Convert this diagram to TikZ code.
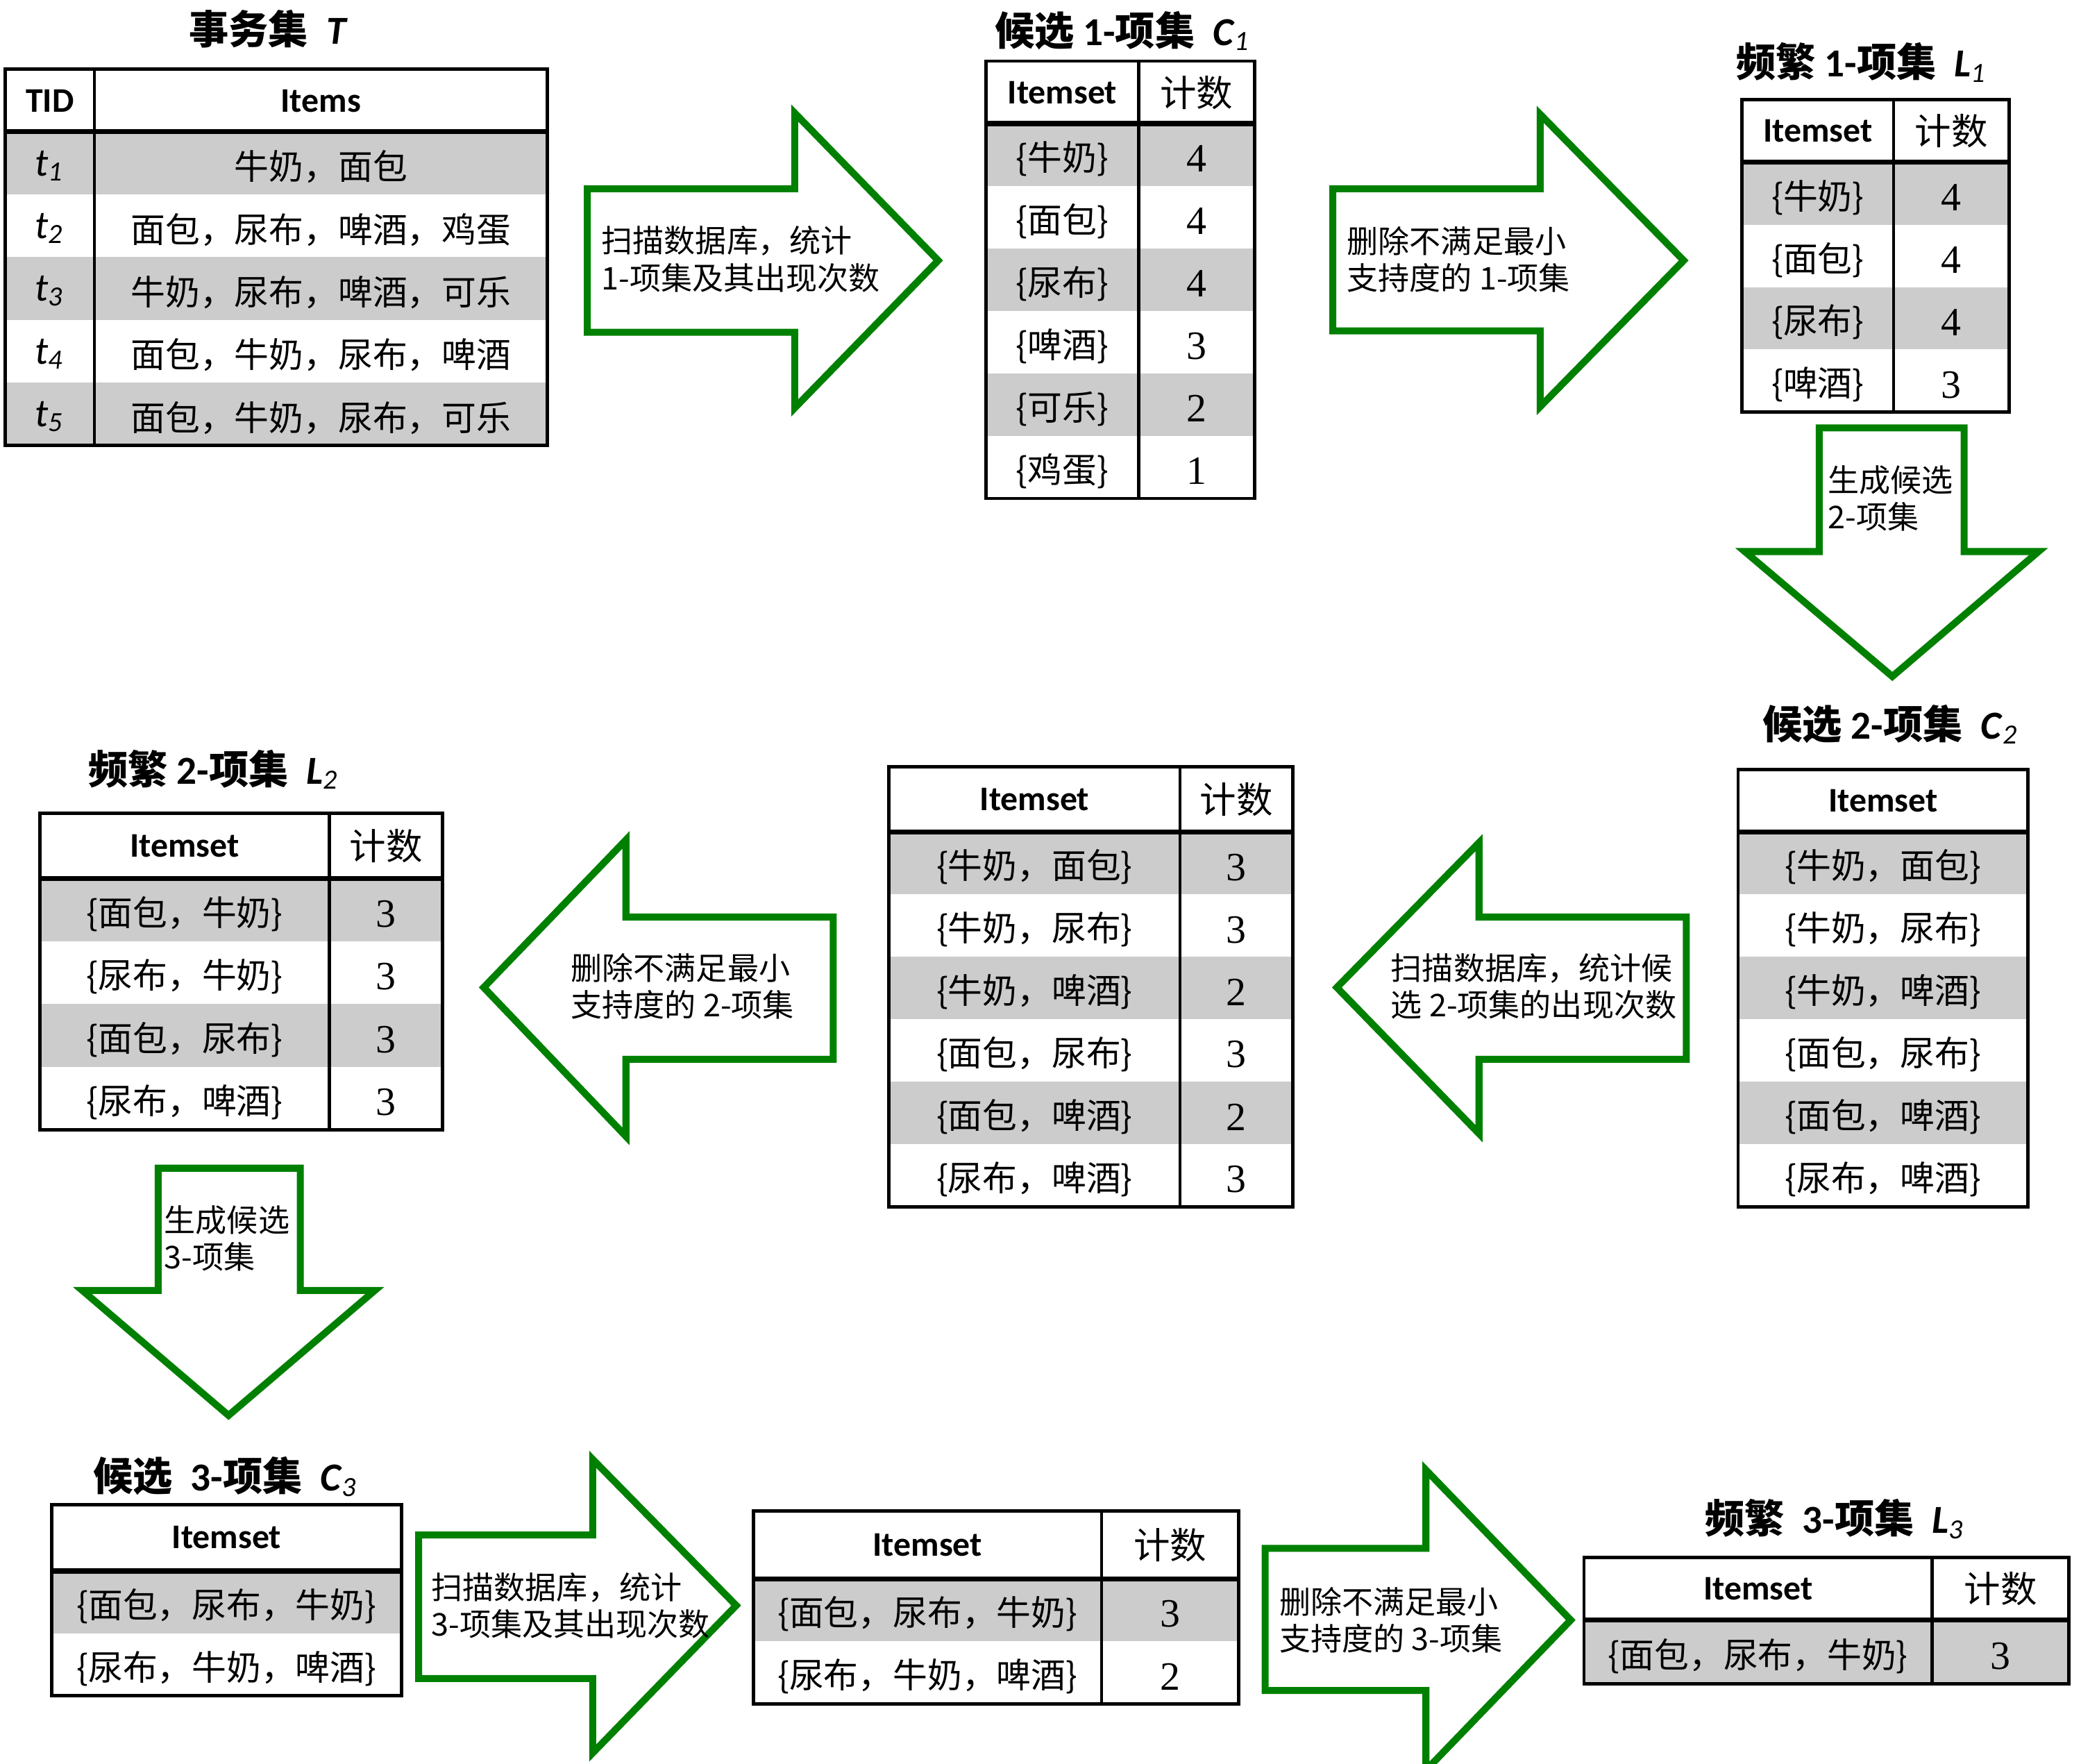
\documentclass[tikz,border=0pt]{standalone}
\usepackage{fontspec}
\setmainfont{Carlito}
\newfontfamily\cjk{Noto Sans CJK SC}
\newfontfamily\numfont{Liberation Serif}
\definecolor{rowgray}{RGB}{204,204,204}
\definecolor{arrowgreen}{RGB}{0,128,0}
\tikzset{
  tabline/.style={line width=0.7pt},
  headline/.style={line width=1.1pt},
  greenarrow/.style={draw=arrowgreen,line width=1.5pt,line join=miter,fill=white},
  hdr/.style={font=\fontsize{7.4pt}{9pt}\selectfont\bfseries,inner sep=0pt},
  cnthdr/.style={font=\cjk\fontsize{7.8pt}{9pt}\selectfont,inner sep=0pt},
  cell/.style={font=\cjk\fontsize{7.4pt}{9pt}\selectfont,inner sep=0pt,yshift=-0.3mm},
  num/.style={font=\numfont\fontsize{8.6pt}{9pt}\selectfont,inner sep=0pt,yshift=-0.3mm},
  tid/.style={font=\fontsize{8.5pt}{9pt}\selectfont\itshape,inner sep=0pt,yshift=-0.2mm},
  note/.style={font=\cjk\fontsize{6.7pt}{7.9pt}\selectfont,align=left,anchor=west,inner sep=0pt},
  ttl/.style={font=\fontsize{8.5pt}{10pt}\selectfont\bfseries,inner sep=0pt}
}
\def\sub#1{\textsubscript{\mdseries\itshape #1}}

\begin{document}
\begin{tikzpicture}[x=0.1mm,y=-0.1mm]
\useasboundingbox (0,0) rectangle (1566,1327);

\node[ttl] (ttl-T) at (202,22) {{\cjk 事务集}\ \ \textit{T}};
\foreach \n in {1,3,5} \fill[rowgray] (4,{99+47.2*(\n-1)}) rectangle (412,{99+47.2*\n});
\draw[tabline] (4,52) rectangle (412,335) (71,52) -- (71,335);
\draw[headline] (4,99) -- (412,99);
\node[hdr] (T-tid) at (37.5,76) {TID};
\node[hdr] (T-items) at (241.5,76) {Items};
\foreach \s [count=\n] in {牛奶，面包,面包，尿布，啤酒，鸡蛋,牛奶，尿布，啤酒，可乐,面包，牛奶，尿布，啤酒,面包，牛奶，尿布，可乐}{
  \node[tid] (T-t\n) at (37.5,{99+47.2*(\n-0.5)}) {t\sub{\n}};
  \node[cell] (T-i\n) at (241.5,{99+47.2*(\n-0.5)}) {\s};
}

\draw[greenarrow] (442,142) -- (598,142) -- (598,85) -- (706,196) -- (598,307) -- (598,250) -- (442,250) -- cycle;
\node[note] (a1) at (452,195) {扫描数据库，统计\\1-项集及其出现次数};

\node[ttl] (ttl-C1) at (845,23) {{\cjk 候选} 1-{\cjk 项集}\ \ \textit{C}\sub{1}};
\foreach \n in {1,3,5} \fill[rowgray] (742,{93+47*(\n-1)}) rectangle (944,{93+47*\n});
\draw[tabline] (742,46) rectangle (944,375) (857,46) -- (857,375);
\draw[headline] (742,93) -- (944,93);
\node[hdr] (C1-h1) at (799.5,70) {Itemset};
\node[cnthdr] (C1-h2) at (900.5,70) {计数};
\foreach \s/\c [count=\n] in {牛奶/4,面包/4,尿布/4,啤酒/3,可乐/2,鸡蛋/1}{
  \node[cell] (C1-s\n) at (799.5,{93+47*(\n-0.5)}) {\{\s\}};
  \node[num] (C1-c\n) at (900.5,{93+47*(\n-0.5)}) {\c};
}

\draw[greenarrow] (1003,142) -- (1159,142) -- (1159,86) -- (1267,196) -- (1159,306) -- (1159,249) -- (1003,249) -- cycle;
\node[note] (a2) at (1013,195) {删除不满足最小\\支持度的 1-项集};

\node[ttl] (ttl-L1) at (1401,47) {{\cjk 频繁} 1-{\cjk 项集}\ \ \textit{L}\sub{1}};
\foreach \n in {1,3} \fill[rowgray] (1311,{122+47*(\n-1)}) rectangle (1512,{122+47*\n});
\draw[tabline] (1311,75) rectangle (1512,310) (1425,75) -- (1425,310);
\draw[headline] (1311,122) -- (1512,122);
\node[hdr] (L1-h1) at (1368,98.5) {Itemset};
\node[cnthdr] (L1-h2) at (1468.5,98.5) {计数};
\foreach \s/\c [count=\n] in {牛奶/4,面包/4,尿布/4,啤酒/3}{
  \node[cell] (L1-s\n) at (1368,{122+47*(\n-0.5)}) {\{\s\}};
  \node[num] (L1-c\n) at (1468.5,{122+47*(\n-0.5)}) {\c};
}

\draw[greenarrow] (1369,322) -- (1478,322) -- (1478,415) -- (1534,415) -- (1424,509) -- (1313,415) -- (1369,415) -- cycle;
\node[note] (a3) at (1375,375) {生成候选\\2-项集};

\node[ttl] (ttl-C2) at (1423,545) {{\cjk 候选} 2-{\cjk 项集}\ \ \textit{C}\sub{2}};
\foreach \n in {1,3,5} \fill[rowgray] (1308,{626+47*(\n-1)}) rectangle (1526,{626+47*\n});
\draw[tabline] (1308,579) rectangle (1526,908);
\draw[headline] (1308,626) -- (1526,626);
\node[hdr] (C2-h1) at (1417,602.5) {Itemset};
\foreach \s [count=\n] in {牛奶，面包,牛奶，尿布,牛奶，啤酒,面包，尿布,面包，啤酒,尿布，啤酒}
  \node[cell] (C2-s\n) at (1417,{626+47*(\n-0.5)}) {\{\s\}};

\draw[greenarrow] (1269,690) -- (1113,690) -- (1113,634) -- (1006,743) -- (1113,853) -- (1113,797) -- (1269,797) -- cycle;
\node[note] (a4) at (1046,742) {扫描数据库，统计候\\选 2-项集的出现次数};

\foreach \n in {1,3,5} \fill[rowgray] (669,{626+47*(\n-1)}) rectangle (973,{626+47*\n});
\draw[tabline] (669,577) rectangle (973,908) (888,577) -- (888,908);
\draw[headline] (669,626) -- (973,626);
\node[hdr] (M-h1) at (778.5,601.5) {Itemset};
\node[cnthdr] (M-h2) at (930.5,601.5) {计数};
\foreach \s/\c [count=\n] in {牛奶，面包/3,牛奶，尿布/3,牛奶，啤酒/2,面包，尿布/3,面包，啤酒/2,尿布，啤酒/3}{
  \node[cell] (M-s\n) at (778.5,{626+47*(\n-0.5)}) {\{\s\}};
  \node[num] (M-c\n) at (930.5,{626+47*(\n-0.5)}) {\c};
}

\draw[greenarrow] (627,690) -- (471,690) -- (471,632) -- (364,743) -- (471,855) -- (471,797) -- (627,797) -- cycle;
\node[note] (a5) at (429,742) {删除不满足最小\\支持度的 2-项集};

\node[ttl] (ttl-L2) at (161,579) {{\cjk 频繁} 2-{\cjk 项集}\ \ \textit{L}\sub{2}};
\foreach \n in {1,3} \fill[rowgray] (30,{661+47.25*(\n-1)}) rectangle (333,{661+47.25*\n});
\draw[tabline] (30,612) rectangle (333,850) (248,612) -- (248,850);
\draw[headline] (30,661) -- (333,661);
\node[hdr] (L2-h1) at (139,636.5) {Itemset};
\node[cnthdr] (L2-h2) at (290.5,636.5) {计数};
\foreach \s/\c [count=\n] in {面包，牛奶/3,尿布，牛奶/3,面包，尿布/3,尿布，啤酒/3}{
  \node[cell] (L2-s\n) at (139,{661+47.25*(\n-0.5)}) {\{\s\}};
  \node[num] (L2-c\n) at (290.5,{661+47.25*(\n-0.5)}) {\c};
}

\draw[greenarrow] (119,879) -- (226,879) -- (226,971) -- (282,971) -- (172,1065) -- (62,971) -- (119,971) -- cycle;
\node[note] (a6) at (123,932) {生成候选\\3-项集};

\node[ttl] (ttl-C3) at (170,1111) {{\cjk 候选}\ \ 3-{\cjk 项集}\ \ \textit{C}\sub{3}};
\fill[rowgray] (39,1182) rectangle (302,1229);
\draw[tabline] (39,1132) rectangle (302,1276);
\draw[headline] (39,1182) -- (302,1182);
\node[hdr] (C3-h1) at (170.5,1157) {Itemset};
\node[cell] (C3-s1) at (170.5,1205.5) {\{面包，尿布，牛奶\}};
\node[cell] (C3-s2) at (170.5,1252.5) {\{尿布，牛奶，啤酒\}};

\draw[greenarrow] (315,1155) -- (446,1155) -- (446,1098) -- (554,1208) -- (446,1319) -- (446,1263) -- (315,1263) -- cycle;
\node[note] (a7) at (324,1208) {扫描数据库，统计\\3-项集及其出现次数};

\fill[rowgray] (567,1188) rectangle (932,1235);
\draw[tabline] (567,1137) rectangle (932,1282) (829,1137) -- (829,1282);
\draw[headline] (567,1188) -- (932,1188);
\node[hdr] (S3-h1) at (698,1162.5) {Itemset};
\node[cnthdr] (S3-h2) at (880.5,1162.5) {计数};
\node[cell] (S3-s1) at (698,1211.5) {\{面包，尿布，牛奶\}};
\node[num] (S3-c1) at (880.5,1211.5) {3};
\node[cell] (S3-s2) at (698,1258.5) {\{尿布，牛奶，啤酒\}};
\node[num] (S3-c2) at (880.5,1258.5) {2};

\draw[greenarrow] (952,1165) -- (1073,1165) -- (1073,1106) -- (1182,1219) -- (1073,1332) -- (1073,1272) -- (952,1272) -- cycle;
\node[note] (a8) at (962,1219) {删除不满足最小\\支持度的 3-项集};

\node[ttl] (ttl-L3) at (1381,1143) {{\cjk 频繁}\ \ 3-{\cjk 项集}\ \ \textit{L}\sub{3}};
\fill[rowgray] (1192,1219) rectangle (1557,1267);
\draw[tabline] (1192,1172) rectangle (1557,1267) (1454,1172) -- (1454,1267);
\draw[headline] (1192,1219) -- (1557,1219);
\node[hdr] (L3-h1) at (1323,1195.5) {Itemset};
\node[cnthdr] (L3-h2) at (1505.5,1195.5) {计数};
\node[cell] (L3-s1) at (1323,1243) {\{面包，尿布，牛奶\}};
\node[num] (L3-c1) at (1505.5,1243) {3};
\end{tikzpicture}
\end{document}
